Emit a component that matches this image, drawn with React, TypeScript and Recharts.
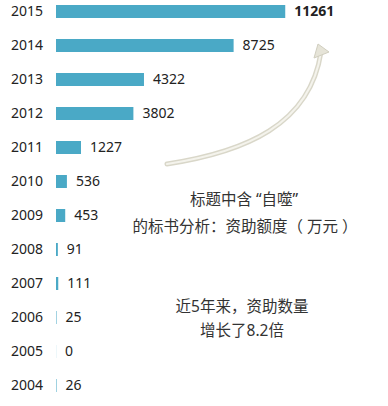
import { Bar, BarChart, LabelList, XAxis, YAxis } from "recharts";

const years = ["2015", "2014", "2013", "2012", "2011", "2010", "2009", "2008", "2007", "2006", "2005", "2004"];
const amounts = [11261, 8725, 4322, 3802, 1227, 536, 453, 91, 111, 25, 0, 26];
const titleLines = ["标题中含 “自噬”", "的标书分析：资助额度（ 万元 ）"];
const noteLines = ["近5年来，资助数量", "增长了8.2倍"];

const data = years.map((year, i) => ({ year, amount: amounts[i] }));

const font = "'Noto Sans', 'Noto Sans CJK SC', sans-serif";

const ValueLabel = (props: any) => {
  const { x, y, width, height, value, index } = props;
  return (
    <text
      x={x + width + 9}
      y={y + height / 2}
      dy="0.35em"
      fontSize={14}
      fontFamily={font}
      fontWeight={index === 0 ? 700 : 400}
      fill="#222"
    >
      {value}
    </text>
  );
};

const arrow = "M 167 164 C 245 152, 310 125, 321 52";

const App = () => {
  return (
    <div style={{ position: "absolute", left: 0, top: 0, width: 388, height: 406, overflow: "hidden", background: "#fff" }}>
      <div style={{ position: "absolute", left: 0, top: -6 }}>
        <BarChart
          layout="vertical"
          width={388}
          height={412}
          data={data}
          margin={{ top: 0, right: 47, bottom: 4, left: 0 }}
          barCategoryGap={0}
        >
          <XAxis type="number" domain={[0, 14000]} hide />
          <YAxis
            type="category"
            dataKey="year"
            width={56}
            axisLine={false}
            tickLine={false}
            tickSize={0}
            tickMargin={13}
            tick={{ fontSize: 14, fill: "#222", fontFamily: font }}
          />
          <Bar dataKey="amount" fill="#4aa9c6" barSize={13} minPointSize={0.1} isAnimationActive={false}>
            <LabelList dataKey="amount" content={ValueLabel} />
          </Bar>
        </BarChart>
      </div>
      <svg width={388} height={406} style={{ position: "absolute", left: 0, top: 0, pointerEvents: "none" }}>
        <path d={arrow} fill="none" stroke="#d9d7c9" strokeWidth={5} strokeLinecap="round" />
        <path d={arrow} fill="none" stroke="#f4f3ec" strokeWidth={2} strokeLinecap="round" />
        <path d="M 314 58 L 318 44 L 329 52 Z" fill="#e6e4d8" stroke="#d0cebf" strokeWidth={1} />
        <g fontFamily={font} fontSize={15.5} fill="#333" textAnchor="middle">
          <text x={244} y={205}>{titleLines[0]}</text>
          <text x={245} y={232}>{titleLines[1]}</text>
          <text x={242} y={312}>{noteLines[0]}</text>
          <text x={242} y={336}>{noteLines[1]}</text>
        </g>
      </svg>
    </div>
  );
};

export default App;
